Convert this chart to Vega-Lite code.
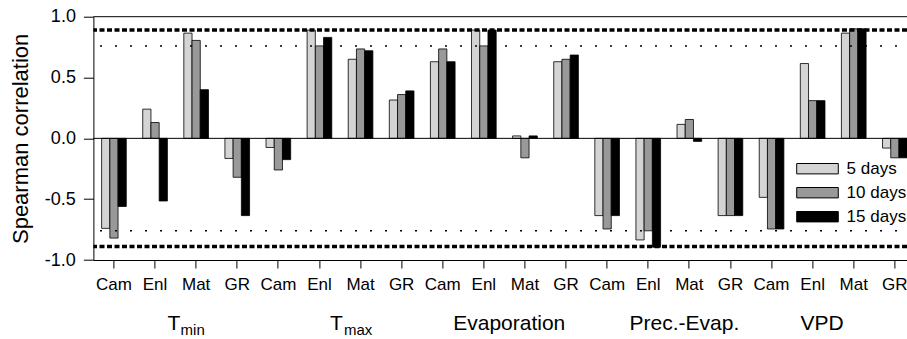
{
  "$schema": "https://vega.github.io/schema/vega-lite/v6.json",
  "width": 813.6,
  "height": 243.3,
  "autosize": {"type": "none"},
  "padding": {"left": 93.4, "top": 16.7, "right": 0, "bottom": 79},
  "config": {
    "view": {"stroke": null},
    "font": "Liberation Sans",
    "axis": {"domainColor": "#000", "tickColor": "#000", "labelColor": "#000", "titleColor": "#000", "domainWidth": 1, "tickWidth": 1, "grid": false, "labelFont": "Liberation Sans", "titleFont": "Liberation Sans"},
    "legend": {"labelFont": "Liberation Sans"}
  },
  "datasets": {
    "bars": [
      {"key": "Tmin|Cam", "period": "5 days", "value": -0.74},
      {"key": "Tmin|Cam", "period": "10 days", "value": -0.82},
      {"key": "Tmin|Cam", "period": "15 days", "value": -0.56},
      {"key": "Tmin|Enl", "period": "5 days", "value": 0.24},
      {"key": "Tmin|Enl", "period": "10 days", "value": 0.13},
      {"key": "Tmin|Enl", "period": "15 days", "value": -0.515},
      {"key": "Tmin|Mat", "period": "5 days", "value": 0.865},
      {"key": "Tmin|Mat", "period": "10 days", "value": 0.805},
      {"key": "Tmin|Mat", "period": "15 days", "value": 0.4},
      {"key": "Tmin|GR", "period": "5 days", "value": -0.165},
      {"key": "Tmin|GR", "period": "10 days", "value": -0.32},
      {"key": "Tmin|GR", "period": "15 days", "value": -0.635},
      {"key": "Tmax|Cam", "period": "5 days", "value": -0.075},
      {"key": "Tmax|Cam", "period": "10 days", "value": -0.26},
      {"key": "Tmax|Cam", "period": "15 days", "value": -0.175},
      {"key": "Tmax|Enl", "period": "5 days", "value": 0.89},
      {"key": "Tmax|Enl", "period": "10 days", "value": 0.76},
      {"key": "Tmax|Enl", "period": "15 days", "value": 0.83},
      {"key": "Tmax|Mat", "period": "5 days", "value": 0.65},
      {"key": "Tmax|Mat", "period": "10 days", "value": 0.735},
      {"key": "Tmax|Mat", "period": "15 days", "value": 0.72},
      {"key": "Tmax|GR", "period": "5 days", "value": 0.315},
      {"key": "Tmax|GR", "period": "10 days", "value": 0.36},
      {"key": "Tmax|GR", "period": "15 days", "value": 0.39},
      {"key": "Evap|Cam", "period": "5 days", "value": 0.63},
      {"key": "Evap|Cam", "period": "10 days", "value": 0.735},
      {"key": "Evap|Cam", "period": "15 days", "value": 0.63},
      {"key": "Evap|Enl", "period": "5 days", "value": 0.89},
      {"key": "Evap|Enl", "period": "10 days", "value": 0.76},
      {"key": "Evap|Enl", "period": "15 days", "value": 0.89},
      {"key": "Evap|Mat", "period": "5 days", "value": 0.02},
      {"key": "Evap|Mat", "period": "10 days", "value": -0.16},
      {"key": "Evap|Mat", "period": "15 days", "value": 0.02},
      {"key": "Evap|GR", "period": "5 days", "value": 0.63},
      {"key": "Evap|GR", "period": "10 days", "value": 0.65},
      {"key": "Evap|GR", "period": "15 days", "value": 0.685},
      {"key": "PE|Cam", "period": "5 days", "value": -0.635},
      {"key": "PE|Cam", "period": "10 days", "value": -0.745},
      {"key": "PE|Cam", "period": "15 days", "value": -0.635},
      {"key": "PE|Enl", "period": "5 days", "value": -0.835},
      {"key": "PE|Enl", "period": "10 days", "value": -0.76},
      {"key": "PE|Enl", "period": "15 days", "value": -0.895},
      {"key": "PE|Mat", "period": "5 days", "value": 0.115},
      {"key": "PE|Mat", "period": "10 days", "value": 0.155},
      {"key": "PE|Mat", "period": "15 days", "value": -0.025},
      {"key": "PE|GR", "period": "5 days", "value": -0.635},
      {"key": "PE|GR", "period": "10 days", "value": -0.635},
      {"key": "PE|GR", "period": "15 days", "value": -0.635},
      {"key": "VPD|Cam", "period": "5 days", "value": -0.485},
      {"key": "VPD|Cam", "period": "10 days", "value": -0.745},
      {"key": "VPD|Cam", "period": "15 days", "value": -0.745},
      {"key": "VPD|Enl", "period": "5 days", "value": 0.615},
      {"key": "VPD|Enl", "period": "10 days", "value": 0.31},
      {"key": "VPD|Enl", "period": "15 days", "value": 0.31},
      {"key": "VPD|Mat", "period": "5 days", "value": 0.865},
      {"key": "VPD|Mat", "period": "10 days", "value": 0.9},
      {"key": "VPD|Mat", "period": "15 days", "value": 0.9},
      {"key": "VPD|GR", "period": "5 days", "value": -0.08},
      {"key": "VPD|GR", "period": "10 days", "value": -0.16},
      {"key": "VPD|GR", "period": "15 days", "value": -0.16}
    ],
    "frame": [{"level": 0}, {"level": 1}],
    "strong": [{"level": 0.89}, {"level": -0.89}],
    "weak": [{"level": 0.76}, {"level": -0.76}],
    "groups": [
      {"key": "Tmin|Enl", "label": "T"},
      {"key": "Tmax|Enl", "label": "T"},
      {"key": "Evap|Enl", "label": "Evaporation"},
      {"key": "PE|Mat", "label": "Prec.-Evap."},
      {"key": "VPD|Enl", "label": "VPD"}
    ]
  },
  "layer": [
    {
      "data": {"name": "bars"},
      "mark": {"type": "bar", "stroke": "#000", "strokeWidth": 0.8},
      "encoding": {
        "x": {
          "field": "key", "type": "nominal", "sort": null,
          "scale": {"range": [0, 822], "paddingInner": 0.4, "paddingOuter": 0.2},
          "axis": {"title": null, "labelExpr": "split(datum.label, '|')[1]", "labelAngle": 0, "labelFontSize": 17, "tickSize": 8, "labelPadding": 8}
        },
        "xOffset": {"field": "period", "type": "nominal", "sort": ["5 days", "10 days", "15 days"], "scale": {"paddingInner": 0, "paddingOuter": 0}},
        "y": {
          "field": "value", "type": "quantitative", "title": "Spearman correlation",
          "scale": {"domain": [-1, 1], "nice": false, "zero": false},
          "axis": {
            "title": "Spearman correlation", "titleFontSize": 22, "titleFontWeight": "normal", "titlePadding": 12,
            "values": [-1, -0.75, -0.5, -0.25, 0, 0.25, 0.5, 0.75, 1],
            "labelExpr": "abs(datum.value*2 - round(datum.value*2)) < 0.01 ? (datum.value < 0 ? '-' : '') + format(abs(datum.value), '.1f') : ''",
            "labelFontSize": 18, "labelPadding": 8,
            "tickSize": {"condition": {"test": "abs(datum.value*2 - round(datum.value*2)) < 0.01", "value": 10}, "value": 5}
          }
        },
        "fill": {
          "field": "period", "type": "nominal", "sort": ["5 days", "10 days", "15 days"],
          "scale": {"domain": ["5 days", "10 days", "15 days"], "range": ["#d4d4d4", "#999999", "#000000"]},
          "legend": {
            "title": null, "orient": "none", "legendX": 715.6, "legendY": 143.5, "padding": 0,
            "symbolType": "M-4,-1H4V1H-4Z", "symbolSize": 108, "symbolStrokeColor": "#000", "symbolStrokeWidth": 1, "symbolOpacity": 1,
            "labelFontSize": 17, "labelOffset": 20.6, "rowPadding": 6, "labelColor": "#000"
          }
        }
      }
    },
    {
      "data": {"name": "frame"},
      "mark": {"type": "rule", "color": "#000", "strokeWidth": 1},
      "encoding": {"y": {"field": "level", "type": "quantitative", "title": "Spearman correlation"}}
    },
    {
      "data": {"name": "strong"},
      "mark": {"type": "rule", "color": "#000", "strokeWidth": 3.5, "strokeDash": [5, 2.5]},
      "encoding": {"y": {"field": "level", "type": "quantitative", "title": "Spearman correlation"}}
    },
    {
      "data": {"name": "weak"},
      "mark": {"type": "rule", "color": "#000", "strokeWidth": 1.5, "strokeDash": [2, 13], "strokeDashOffset": 5},
      "encoding": {"y": {"field": "level", "type": "quantitative", "title": "Spearman correlation"}}
    },
    {
      "data": {"name": "groups"},
      "transform": [{"filter": "datum.label == 'Evaporation'"}],
      "mark": {"type": "text", "align": "center", "baseline": "alphabetic", "fontSize": 21, "dx": 25.4, "color": "#000"},
      "encoding": {"x": {"field": "key", "type": "nominal", "sort": null}, "y": {"datum": -1.575}, "text": {"field": "label"}}
    },
    {
      "data": {"name": "groups"},
      "transform": [{"filter": "datum.label == 'Prec.-Evap.'"}],
      "mark": {"type": "text", "align": "center", "baseline": "alphabetic", "fontSize": 21, "dx": -4.9, "color": "#000"},
      "encoding": {"x": {"field": "key", "type": "nominal", "sort": null}, "y": {"datum": -1.575}, "text": {"field": "label"}}
    },
    {
      "data": {"name": "groups"},
      "transform": [{"filter": "datum.label == 'VPD'"}],
      "mark": {"type": "text", "align": "center", "baseline": "alphabetic", "fontSize": 21, "dx": 9.4, "color": "#000"},
      "encoding": {"x": {"field": "key", "type": "nominal", "sort": null}, "y": {"datum": -1.575}, "text": {"field": "label"}}
    },
    {
      "data": {"name": "groups"},
      "transform": [{"filter": "datum.key == 'Tmin|Enl'"}],
      "mark": {"type": "text", "align": "left", "baseline": "alphabetic", "fontSize": 21, "dx": 12.5, "color": "#000"},
      "encoding": {"x": {"field": "key", "type": "nominal", "sort": null}, "y": {"datum": -1.575}, "text": {"field": "label"}}
    },
    {
      "data": {"name": "groups"},
      "transform": [{"filter": "datum.key == 'Tmin|Enl'"}],
      "mark": {"type": "text", "align": "left", "baseline": "alphabetic", "fontSize": 15, "dx": 25.5, "color": "#000", "text": "min"},
      "encoding": {"x": {"field": "key", "type": "nominal", "sort": null}, "y": {"datum": -1.617}}
    },
    {
      "data": {"name": "groups"},
      "transform": [{"filter": "datum.key == 'Tmax|Enl'"}],
      "mark": {"type": "text", "align": "left", "baseline": "alphabetic", "fontSize": 21, "dx": 10.5, "color": "#000"},
      "encoding": {"x": {"field": "key", "type": "nominal", "sort": null}, "y": {"datum": -1.575}, "text": {"field": "label"}}
    },
    {
      "data": {"name": "groups"},
      "transform": [{"filter": "datum.key == 'Tmax|Enl'"}],
      "mark": {"type": "text", "align": "left", "baseline": "alphabetic", "fontSize": 15, "dx": 24.5, "color": "#000", "text": "max"},
      "encoding": {"x": {"field": "key", "type": "nominal", "sort": null}, "y": {"datum": -1.617}}
    }
  ]
}
